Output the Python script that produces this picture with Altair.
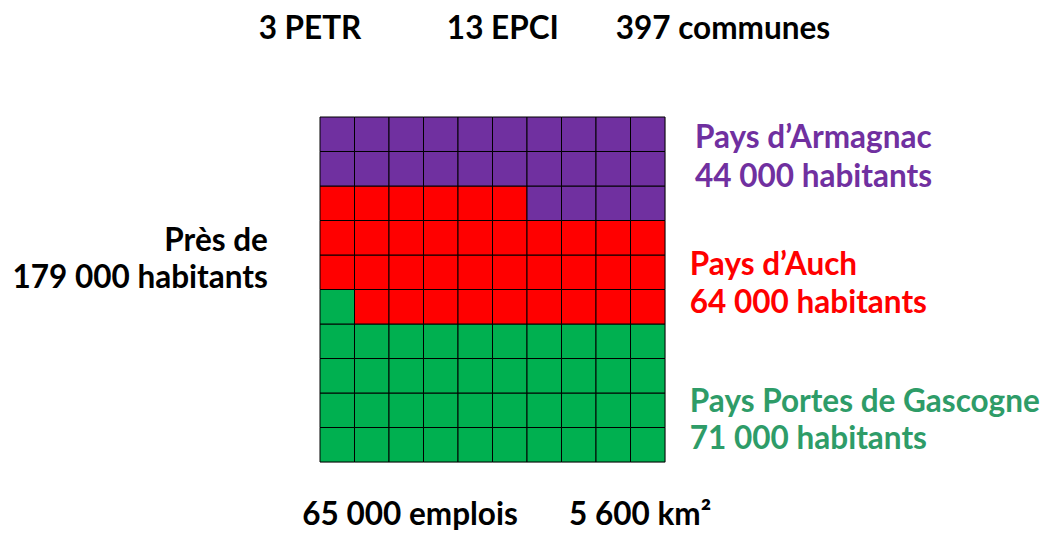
import altair as alt
import pandas as pd

# Data
groups = ["Pays Portes de Gascogne", "Pays d’Auch", "Pays d’Armagnac"]
cells = [41, 35, 24]  # squares out of 100
colors = ["#00B050", "#FF0000", "#7030A0"]
text_colors = ["#2E9C68", "#FF0000", "#7030A0"]
populations = ["71 000 habitants", "64 000 habitants", "44 000 habitants"]
total_label = ["Près de", "179 000 habitants"]
top_labels = ["3 PETR", "13 EPCI", "397 communes"]
bottom_labels = ["65 000 emplois", "5 600 km²"]

# Build waffle cells: left-to-right, bottom-to-top
rows = []
i = 0
for g, n in zip(groups, cells):
    for _ in range(n):
        rows.append({"group": g, "col": i % 10, "row": i // 10,
                     "col2": i % 10 + 1, "row2": i // 10 + 1})
        i += 1
df = pd.DataFrame(rows)

xs = alt.Scale(domain=[0, 10], nice=False, zero=False)
ys = alt.Scale(domain=[0, 10], nice=False, zero=False)

waffle = alt.Chart(df).mark_rect(stroke="black", strokeWidth=1).encode(
    x=alt.X("col:Q", scale=xs, axis=None),
    x2="col2:Q",
    y=alt.Y("row:Q", scale=ys, axis=None),
    y2="row2:Q",
    color=alt.Color("group:N", scale=alt.Scale(domain=groups, range=colors), legend=None),
)

# Layout positions (in grid units) for the annotations
right_x = [10.72, 10.72, 10.87]
right_y = [(1.72, 0.64), (5.67, 4.58), (9.36, 8.23)]
right_rows = []
for g, p, c, x, (y1, y2) in zip(groups, populations, text_colors, right_x, right_y):
    right_rows.append({"t": g, "x": x, "y": y1, "c": c})
    right_rows.append({"t": p, "x": x, "y": y2, "c": c})
right_df = pd.DataFrame(right_rows)

left_df = pd.DataFrame({"t": total_label, "x": [-1.51, -1.51], "y": [6.38, 5.30]})
center_df = pd.DataFrame({
    "t": top_labels + bottom_labels,
    "x": [-0.29, 5.30, 11.68, 2.61, 9.28],
    "y": [12.52, 12.52, 12.52, -1.56, -1.56],
})

font = dict(font="Lato", fontWeight="bold", fontSize=31.5, baseline="middle")

right_text = alt.Chart(right_df).mark_text(align="left", **font).encode(
    x=alt.X("x:Q", scale=xs), y=alt.Y("y:Q", scale=ys), text="t:N",
    color=alt.Color("c:N", scale=None),
)
left_text = alt.Chart(left_df).mark_text(align="right", color="black", **font).encode(
    x=alt.X("x:Q", scale=xs), y=alt.Y("y:Q", scale=ys), text="t:N",
)
center_text = alt.Chart(center_df).mark_text(align="center", color="black", **font).encode(
    x=alt.X("x:Q", scale=xs), y=alt.Y("y:Q", scale=ys), text="t:N",
)

chart = alt.layer(waffle, right_text, left_text, center_text).properties(
    width=345, height=345,
    autosize=alt.AutoSizeParams(type="none"),
    padding={"left": 312, "top": 109, "right": 375, "bottom": 70},
).configure_view(stroke=None).configure(background="white")

chart.save("out.html", embed_options={"renderer": "svg", "actions": False})
